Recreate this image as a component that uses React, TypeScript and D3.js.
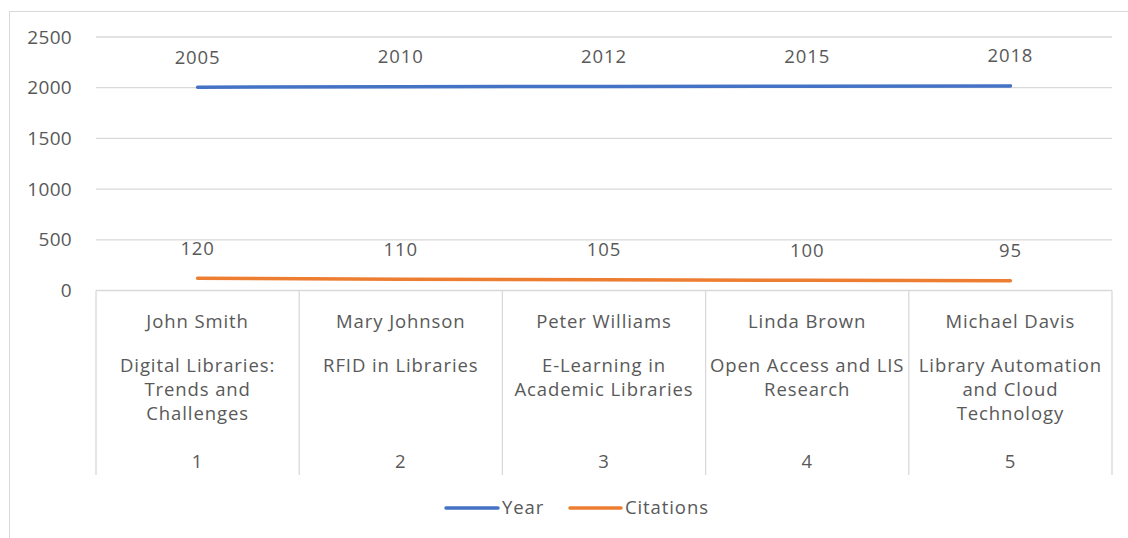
import * as d3 from "d3";

const ids = ["1", "2", "3", "4", "5"];
const authors = ["John Smith", "Mary Johnson", "Peter Williams", "Linda Brown", "Michael Davis"];
const titles = [
  ["Digital Libraries:", "Trends and", "Challenges"],
  ["RFID in Libraries"],
  ["E-Learning in", "Academic Libraries"],
  ["Open Access and LIS", "Research"],
  ["Library Automation", "and Cloud", "Technology"],
];
const years = [2005, 2010, 2012, 2015, 2018];
const citations = [120, 110, 105, 100, 95];
const yTicks = [0, 500, 1000, 1500, 2000, 2500];

const series = [
  { name: "Year", values: years, color: "#4472C4" },
  { name: "Citations", values: citations, color: "#ED7D31" },
];

const width = 1128;
const height = 538;
const left = 96;
const right = 1112;
const top = 37;
const bottom = 290.5;
const tableBottom = 475;
const font = "'Open Sans', sans-serif";
const textColor = "#595959";
const grid = "#d9d9d9";
const fs = 18.5;
const ls = 0.9;

export default function App() {
  const x = d3.scaleBand<string>().domain(ids).range([left, right]);
  const y = d3.scaleLinear().domain([0, 2500]).range([bottom, top]);
  const cx = (i: number) => (x(ids[i]) as number) + x.bandwidth() / 2;
  const line = d3
    .line<number>()
    .x((_, i) => cx(i))
    .y((d) => y(d));

  return (
    <svg
      width={width}
      height={height}
      style={{ position: "absolute", left: 0, top: 0, background: "#fff" }}
      fontFamily={font}
    >
      <rect x={9.5} y={11.5} width={1130} height={540} fill="none" stroke={grid} />
      {yTicks.map((t) => (
        <g key={t}>
          {t > 0 && <line x1={left} x2={right} y1={y(t)} y2={y(t)} stroke={grid} strokeWidth={1.3} />}
          <text x={72} y={y(t)} dy="0.35em" textAnchor="end" fontSize={19} letterSpacing={0.3} fill={textColor}>
            {t}
          </text>
        </g>
      ))}

      {/* category table */}
      <line x1={left} x2={right} y1={bottom} y2={bottom} stroke={grid} strokeWidth={1.3} />
      {ids.concat(["end"]).map((id, i) => {
        const xx = i < ids.length ? (x(id) as number) : right;
        return <line key={id} x1={xx} x2={xx} y1={bottom} y2={tableBottom} stroke={grid} strokeWidth={1.3} />;
      })}
      {ids.map((id, i) => (
        <g key={id} fontSize={fs} letterSpacing={ls} fill={textColor} textAnchor="middle">
          <text x={cx(i)} y={321.5} dy="0.35em">{authors[i]}</text>
          {titles[i].map((t, j) => (
            <text key={j} x={cx(i)} y={365.5 + j * 24} dy="0.35em">{t}</text>
          ))}
          <text x={cx(i)} y={462} dy="0.35em">{id}</text>
        </g>
      ))}

      {series.map((s) => (
        <g key={s.name}>
          <path d={line(s.values) ?? ""} fill="none" stroke={s.color} strokeWidth={3.5} strokeLinecap="round" />
          {s.values.map((v, i) => (
            <text key={i} x={cx(i)} y={y(v) - 30} dy="0.35em" textAnchor="middle" fontSize={fs} letterSpacing={ls} fill={textColor}>
              {v}
            </text>
          ))}
        </g>
      ))}

      {/* legend */}
      <g fontSize={fs} letterSpacing={ls} fill={textColor}>
        <line x1={446} x2={498} y1={508} y2={508} stroke={series[0].color} strokeWidth={3.5} strokeLinecap="round" />
        <text x={502} y={508} dy="0.35em">Year</text>
        <line x1={570} x2={621} y1={508} y2={508} stroke={series[1].color} strokeWidth={3.5} strokeLinecap="round" />
        <text x={625} y={508} dy="0.35em">Citations</text>
      </g>
    </svg>
  );
}
